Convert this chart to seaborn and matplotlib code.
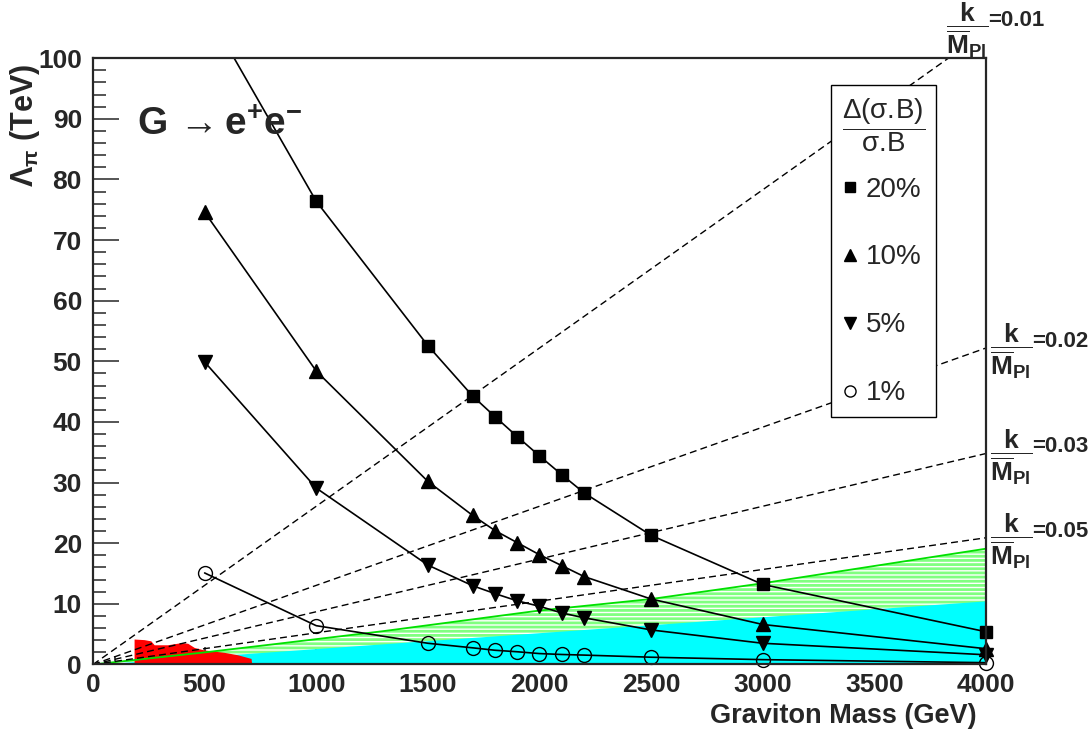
import numpy as np
import pandas as pd
import matplotlib
matplotlib.use("Agg")
import matplotlib.pyplot as plt
import seaborn as sns
from matplotlib.lines import Line2D
from matplotlib.patches import Rectangle
from matplotlib.ticker import MultipleLocator

# graviton mass points (GeV)
mass = [500, 1000, 1500, 1700, 1800, 1900, 2000, 2100, 2200, 2500, 3000, 4000]

# Lambda_pi reach (TeV) for each Delta(sigma.B)/sigma.B
lam_20 = [108.5, 76.4, 52.6, 44.3, 40.9, 37.6, 34.4, 31.3, 28.3, 21.3, 13.2, 5.4]
lam_10 = [74.6, 48.4, 30.2, 24.6, 22.1, 20.1, 18.1, 16.3, 14.5, 10.8, 6.6, 2.6]
lam_5 = [49.9, 29.1, 16.4, 13.0, 11.7, 10.5, 9.6, 8.5, 7.7, 5.7, 3.5, 1.6]
lam_1 = [15.1, 6.4, 3.5, 2.75, 2.35, 2.1, 1.8, 1.65, 1.55, 1.2, 0.8, 0.3]

series_names = ["20%", "10%", "5%", "1%"]

# k/Mpl reference lines: value of Lambda_pi at 0 and 4000 GeV
line_mass = [0, 4000]
coupling = ["0.01", "0.02", "0.03", "0.05"]
lam_at_end = [104.4, 52.2, 34.8, 20.9]

# k/Mpl = 0.1 region (cyan)
cyan_lam = [0, 10.5]

# green hatched band, upper edge
green_m = [0, 100, 500, 800, 1300, 2000, 2500, 3000, 4000]
green_lam = [0, 0.4, 2.0, 3.3, 5.5, 8.9, 10.8, 13.4, 19.1]

# red excluded region
red_m = [184, 184, 229, 259, 274, 334, 394, 424, 454, 498, 588, 648, 708, 711]
red_lam = [0, 4.2, 4.1, 3.9, 3.25, 3.25, 3.6, 3.5, 2.8, 2.4, 2.0, 1.6, 1.0, 0]

sns.set_style("ticks")
plt.rcParams["font.family"] = ["Liberation Sans", "DejaVu Sans"]
plt.rcParams["mathtext.fontset"] = "custom"
plt.rcParams["mathtext.rm"] = "Liberation Sans"
plt.rcParams["mathtext.it"] = "Liberation Sans:italic"
plt.rcParams["mathtext.bf"] = "Liberation Sans:bold"
plt.rcParams["hatch.linewidth"] = 2.0

fig = plt.figure(figsize=(10.89, 7.34), dpi=100)
ax = fig.add_axes([0.0854, 0.0947, 0.82, 0.826])

# shaded regions
ax.fill_between(green_m, green_lam, 0, facecolor="none", edgecolor="#80ff80",
                hatch="----", linewidth=0, zorder=1)
ax.fill_between(line_mass, cyan_lam, 0, color="#00ffff", linewidth=0, zorder=1.1)
ax.fill_between(red_m, red_lam, 0, color="#ff0000", linewidth=0, zorder=1.2)
sns.lineplot(x=green_m, y=green_lam, color="#00e000", linewidth=1.3, ax=ax, zorder=1.3)

# dashed k/Mpl lines
for end in lam_at_end:
    ax.plot(line_mass, [0, end], color="black", linewidth=1.0, dashes=(5, 3), zorder=1.5)

df = pd.DataFrame({
    "mass": mass * 4,
    "lam": lam_20 + lam_10 + lam_5 + lam_1,
    "series": np.repeat(series_names, len(mass)),
})

styles = {
    "20%": dict(marker="s", markersize=9, markerfacecolor="black"),
    "10%": dict(marker="^", markersize=10, markerfacecolor="black"),
    "5%": dict(marker="v", markersize=10, markerfacecolor="black"),
    "1%": dict(marker="o", markersize=10, markerfacecolor="none"),
}
n_before = len(ax.lines)
for name in series_names:
    sub = df[df["series"] == name]
    sns.lineplot(data=sub, x="mass", y="lam", color="black", linewidth=1.2,
                 markeredgecolor="black", markeredgewidth=1.0, ax=ax, zorder=2,
                 **styles[name])
# let markers on the frame edges show (right / bottom), still clip at the top
clip_rect = Rectangle((-0.05, -0.05), 1.1, 1.05, transform=ax.transAxes,
                      facecolor="none", edgecolor="none")
for ln in ax.lines[n_before:]:
    ln.set_clip_path(clip_rect)

ax.set_xlim(0, 4000)
ax.set_ylim(0, 100)
ax.xaxis.set_major_locator(MultipleLocator(500))
ax.xaxis.set_minor_locator(MultipleLocator(100))
ax.yaxis.set_major_locator(MultipleLocator(10))
ax.yaxis.set_minor_locator(MultipleLocator(2))
ax.tick_params(axis="x", which="major", direction="in", length=12, width=1.1,
               labelsize=19, pad=6)
ax.tick_params(axis="x", which="minor", direction="in", length=6, width=1.1)
ax.tick_params(axis="y", which="major", direction="in", length=19, width=1.1,
               labelsize=19, pad=8)
ax.tick_params(axis="y", which="minor", direction="in", length=9.5, width=1.1)
for lab in ax.get_xticklabels() + ax.get_yticklabels():
    lab.set_fontweight("bold")
for sp in ax.spines.values():
    sp.set_linewidth(1.6)
    sp.set_visible(True)

ax.set_xlabel("Graviton Mass (GeV)", fontsize=19.5, fontweight="bold", ha="right")
ax.xaxis.set_label_coords(0.99, -0.064)
ax.set_ylabel(r"$\mathbf{\Lambda_{\pi}}$ (TeV)", fontsize=22, fontweight="bold", loc="top")
ax.yaxis.set_label_coords(-0.057, 0.99)

ax.text(197, 89, r"$\mathbf{G}\,\rightarrow\mathbf{e^{+}e^{-}}$", fontsize=28,
        ha="left", va="center")

# k/Mpl labels: big fraction, smaller "=value" next to it
frac = r"$\dfrac{\mathbf{k}}{\overline{\mathbf{M}}_{\mathbf{Pl}}}$"
for c, end in zip(coupling, lam_at_end):
    if end > 100:
        pos = (3822, 104.6)
    else:
        pos = (4018, end - 0.5)
    t = ax.text(pos[0], pos[1], frac, fontsize=19, ha="left", va="center", clip_on=False)
    ax.annotate("=" + c, xy=(1.0, 0.66), xycoords=t, fontsize=16, fontweight="bold",
                ha="left", va="center", annotation_clip=False)

handles = [
    Line2D([], [], linestyle="none", marker="s", color="black", markersize=7),
    Line2D([], [], linestyle="none", marker="^", color="black", markersize=8),
    Line2D([], [], linestyle="none", marker="v", color="black", markersize=8),
    Line2D([], [], linestyle="none", marker="o", markerfacecolor="none",
           markeredgecolor="black", markersize=8),
]
leg = ax.legend(handles, series_names,
                title=r"$\dfrac{\mathrm{\Delta(\sigma.\!B)}}{\mathrm{\sigma.\!B}}$",
                loc="upper left", bbox_to_anchor=(0.8264, 0.955), borderaxespad=0,
                frameon=True, fancybox=False, edgecolor="black", framealpha=1,
                fontsize=20, title_fontsize=20, labelspacing=1.51, handlelength=0.6,
                handletextpad=0.25, borderpad=0.4, alignment="left")
leg._legend_box.sep = 16
leg.get_frame().set_linewidth(1.0)
leg.set_zorder(5)

fig.savefig("out.png", dpi=100)
